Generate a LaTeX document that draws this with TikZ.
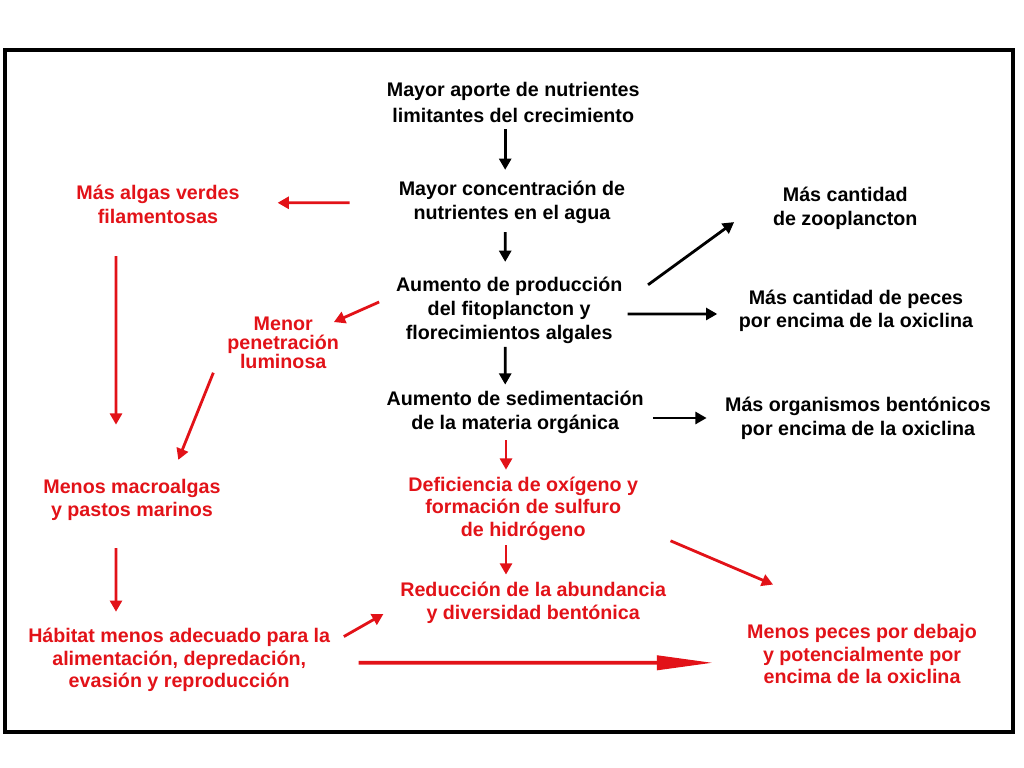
\documentclass[tikz,border=0pt]{standalone}
\usepackage{fontspec}
\setmainfont{Liberation Sans}
\usetikzlibrary{arrows.meta,calc}
\definecolor{eutroRed}{RGB}{226,18,24}

\begin{document}
\begin{tikzpicture}[
    box/.style={font=\fontsize{14}{17}\selectfont\bfseries, align=center, inner sep=1pt},
    redbox/.style={box, text=eutroRed, font=\fontsize{14}{16}\selectfont\bfseries},
    arr/.style={-{Triangle[length=8pt,width=8.5pt]}, line width=2pt},
    redarr/.style={arr, eutroRed},
    bigarr/.style={-{Triangle[length=40pt,width=10pt]}, line width=2.6pt, eutroRed}
  ]
  \useasboundingbox (0,0) rectangle (25.6,19.2);
  \draw[line width=2.2pt] (0.125,0.9) rectangle (25.325,17.95);

  % main column
  \node[box, font=\fontsize{14}{18.5}\selectfont\bfseries] (aporte) at (12.83,16.65) {Mayor aporte de nutrientes\\limitantes del crecimiento};
  \node[box] (conc)   at (12.80,14.15) {Mayor concentración de\\nutrientes en el agua};
  \node[box] (fito)   at (12.73,11.45) {Aumento de producción\\del fitoplancton y\\florecimientos algales};
  \node[box] (sedim)  at (12.88,8.88)  {Aumento de sedimentación\\de la materia orgánica};
  \node[redbox] (oxig)  at (13.08,6.48) {Deficiencia de oxígeno y\\formación de sulfuro\\de hidrógeno};
  \node[redbox] (bento) at (13.33,4.13) {Reducción de la abundancia\\y diversidad bentónica};

  % right column
  \node[box] (zoo)   at (21.13,14.0)  {Más cantidad\\de zooplancton};
  \node[box] (peces) at (21.40,11.43) {Más cantidad de peces\\por encima de la oxiclina};
  \node[box] (organ) at (21.45,8.75)  {Más organismos bentónicos\\por encima de la oxiclina};
  \node[redbox] (menpec) at (21.55,2.85) {Menos peces por debajo\\y potencialmente por\\encima de la oxiclina};

  % left column
  \node[redbox, font=\fontsize{14}{17}\selectfont\bfseries] (algas) at (3.95,14.08) {Más algas verdes\\filamentosas};
  \node[redbox, font=\fontsize{14}{13.5}\selectfont\bfseries] (luz) at (7.08,10.63) {Menor\\penetración\\luminosa};
  \node[redbox] (macro) at (3.30,6.70) {Menos macroalgas\\y pastos marinos};
  \node[redbox] (habit) at (4.48,2.70) {Hábitat menos adecuado para la\\alimentación, depredación,\\evasión y reproducción};

  % black arrows
  \draw[arr] ($(aporte.south)+(-0.2,-0.13)$) -- ($(conc.north)+(-0.17,0.23)$);
  \draw[arr] ($(conc.south)+(-0.17,-0.18)$) -- ($(fito.north)+(-0.1,0.33)$);
  \draw[arr] ($(fito.south)+(-0.1,-0.05)$) -- ($(sedim.north)+(-0.25,0.13)$);
  \draw[arr] ($(fito.east)+(0.6,0.63)$) -- ($(zoo.south west)+(-0.93,0.22)$);
  \draw[arr] ($(fito.east)+(0.09,-0.1)$) -- ($(peces.west)+(-0.5,-0.08)$);
  \draw[arr] ($(sedim.east)+(0.19,-0.13)$) -- ($(organ.west)+(-0.42,0)$);

  % red arrows
  \draw[redarr] ($(conc.west)+(-1.19,-0.02)$) -- ($(algas.east)+(0.91,0.05)$);
  \draw[redarr] ($(fito.west)+(-0.38,0.2)$) -- ($(luz.north east)+(-0.17,-0.17)$);
  \draw[redarr] ($(algas.south)+(-1.05,-0.76)$) -- ($(macro.north)+(-0.4,1.33)$);
  \draw[redarr] ($(luz.south west)+(-0.31,-0.06)$) -- ($(macro.north east)+(-1.1,0.45)$);
  \draw[redarr] ($(macro.south)+(-0.4,-0.65)$) -- ($(habit.north)+(-1.58,0.37)$);
  \draw[redarr] ($(sedim.south)+(-0.23,-0.11)$) -- ($(oxig.north)+(-0.43,0.14)$);
  \draw[redarr] ($(oxig.south)+(-0.43,-0.07)$) -- ($(bento.north)+(-0.68,0.15)$);
  \draw[redarr] ($(habit.north east)+(0.3,-0.25)$) -- ($(bento.west)+(-0.38,-0.28)$);
  \draw[redarr] ($(oxig.east)+(0.77,-0.8)$) -- ($(menpec.north west)+(0.69,0.95)$);
  \draw[bigarr] ($(habit.east)+(0.67,-0.07)$) -- ($(menpec.west)+(-0.81,-0.22)$);
\end{tikzpicture}
\end{document}
